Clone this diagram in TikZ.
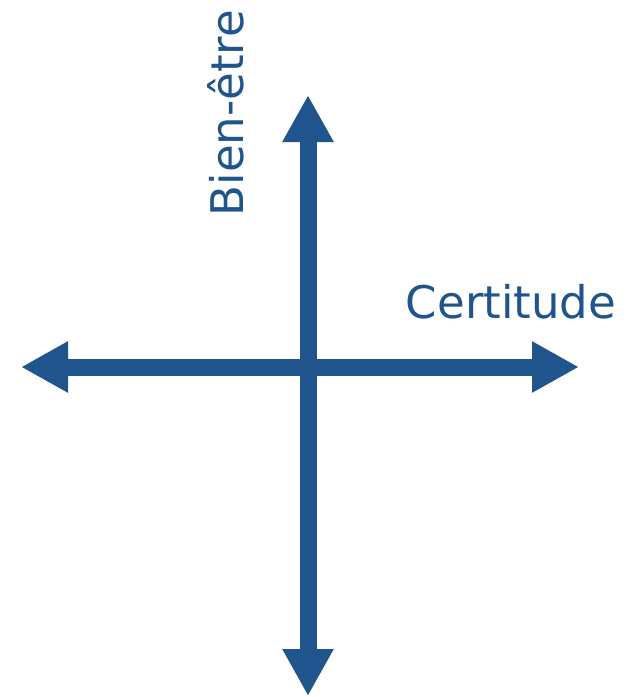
\documentclass[tikz,border=0pt]{standalone}
\usepackage{fontspec}
\setmainfont{DejaVu Sans}
\usetikzlibrary{arrows.meta}
\definecolor{axisblue}{RGB}{31,84,140}
\begin{document}
\begin{tikzpicture}[x=1pt,y=-1pt,
  axis/.style={draw=axisblue, line width=17pt, {Triangle[length=47pt,width=48pt]}-{Triangle[length=47pt,width=48pt]}},
  label/.style={text=axisblue, font=\fontsize{45}{54}\selectfont, inner sep=0pt, anchor=base}]
\useasboundingbox (0,0) rectangle (634,697);

\coordinate (top) at (308,95);
\coordinate (bottom) at (308,696);
\coordinate (left) at (21,367);
\coordinate (right) at (579,367);

\draw[axis] (left)--(right);
\draw[axis] (bottom)--(top);

\node[label, rotate=90] (bienetre) at (243,113) {Bien-être};
\node[label] (certitude) at (511,318) {Certitude};
\end{tikzpicture}
\end{document}
